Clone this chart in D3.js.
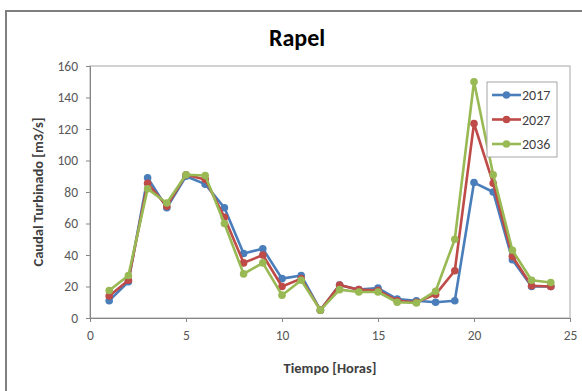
<!DOCTYPE html>
<html>
<head>
<meta charset="utf-8">
<script src="https://cdn.jsdelivr.net/npm/d3@7"></script>
<style>
  body { margin: 0; background: #fff; }
  text { font-family: Calibri, Carlito, "Liberation Sans", Arial, sans-serif; }
</style>
</head>
<body>
<svg id="chart"></svg>
<script>
var hours = d3.range(1, 25);
var series2017 = [11, 23, 89, 70, 90, 85, 70, 41, 44, 25, 27, 5, 21, 18, 19, 12, 11, 10, 11, 86, 80, 37, 20, 20];
var series2027 = [14, 24, 85.5, 71, 91, 88, 64, 35, 40, 20, 25, 5, 21, 18, 17.5, 11, 10, 15, 30, 123.5, 85.5, 39, 20.5, 20];
var series2036 = [17.5, 27, 82, 73, 91, 90.5, 60, 28, 35, 14.5, 24, 5, 18, 16.5, 16.5, 10, 9.5, 17, 50, 150, 91, 43, 24, 22.5];
var seriesNames = ['2017', '2027', '2036'];
var seriesColors = ['#4a7ebb', '#be4b48', '#98b954'];
var xTicks = [0, 5, 10, 15, 20, 25];
var yTicks = [0, 20, 40, 60, 80, 100, 120, 140, 160];

var width = 582, height = 391;
var svg = d3.select('#chart').attr('width', width).attr('height', height);

// outer frame
svg.append('path')
    .attr('d', 'M6,' + height + 'V11H' + width)
    .attr('fill', 'none')
    .attr('stroke', '#7f7f7f')
    .attr('stroke-width', 2);

var plot = { left: 90, right: 570, top: 66, bottom: 318 };

var x = d3.scaleLinear().domain([0, 25]).range([plot.left, plot.right]);
var y = d3.scaleLinear().domain([0, 160]).range([plot.bottom, plot.top]);

svg.append('rect')
    .attr('x', plot.left).attr('y', plot.top)
    .attr('width', plot.right - plot.left).attr('height', plot.bottom - plot.top)
    .attr('fill', 'none').attr('stroke', '#a6a6a6');

var xAxis = svg.append('g')
    .attr('transform', 'translate(0,' + plot.bottom + ')')
    .call(d3.axisBottom(x).tickValues(xTicks).tickSize(4).tickPadding(8));
var yAxis = svg.append('g')
    .attr('transform', 'translate(' + plot.left + ',0)')
    .call(d3.axisLeft(y).tickValues(yTicks).tickSize(4).tickPadding(8));

[xAxis, yAxis].forEach(function(ax) {
    ax.select('.domain').attr('stroke', '#868686');
    ax.selectAll('.tick line').attr('stroke', '#868686');
    ax.selectAll('.tick text')
        .attr('fill', '#595959')
        .style('font-size', '13.5px');
});

svg.append('text')
    .attr('x', 297).attr('y', 46)
    .attr('text-anchor', 'middle')
    .style('font-size', '24px').style('font-weight', 'bold')
    .attr('fill', '#000')
    .text('Rapel');

svg.append('text')
    .attr('x', 330).attr('y', 373)
    .attr('text-anchor', 'middle')
    .style('font-size', '14.5px').style('font-weight', 'bold')
    .attr('fill', '#404040')
    .text('Tiempo [Horas]');

svg.append('text')
    .attr('transform', 'translate(43,192) rotate(-90)')
    .attr('text-anchor', 'middle')
    .style('font-size', '14.5px').style('font-weight', 'bold')
    .attr('fill', '#404040')
    .text('Caudal Turbinado [m3/s]');

var allSeries = [series2017, series2027, series2036];
var line = d3.line()
    .x(function(d, i) { return x(hours[i]); })
    .y(function(d) { return y(d); });

allSeries.forEach(function(vals, s) {
    var g = svg.append('g');
    g.append('path')
        .attr('d', line(vals))
        .attr('fill', 'none')
        .attr('stroke', seriesColors[s])
        .attr('stroke-width', 2.6)
        .attr('stroke-linejoin', 'round');
    g.selectAll('circle')
        .data(vals)
        .enter()
        .append('circle')
            .attr('cx', function(d, i) { return x(hours[i]); })
            .attr('cy', function(d) { return y(d); })
            .attr('r', 3.8)
            .attr('fill', seriesColors[s]);
});

// legend
var legend = svg.append('g').attr('transform', 'translate(487,82)');
legend.append('rect')
    .attr('width', 70).attr('height', 75)
    .attr('fill', '#fff').attr('stroke', '#a6a6a6');
seriesNames.forEach(function(name, i) {
    var ly = 13 + i * 24.5;
    legend.append('line')
        .attr('x1', 5).attr('x2', 34).attr('y1', ly).attr('y2', ly)
        .attr('stroke', seriesColors[i]).attr('stroke-width', 2.6);
    legend.append('circle')
        .attr('cx', 19.5).attr('cy', ly).attr('r', 3.8)
        .attr('fill', seriesColors[i]);
    legend.append('text')
        .attr('x', 35).attr('y', ly + 5)
        .style('font-size', '14px')
        .attr('fill', '#404040')
        .text(name);
});
</script>
</body>
</html>
